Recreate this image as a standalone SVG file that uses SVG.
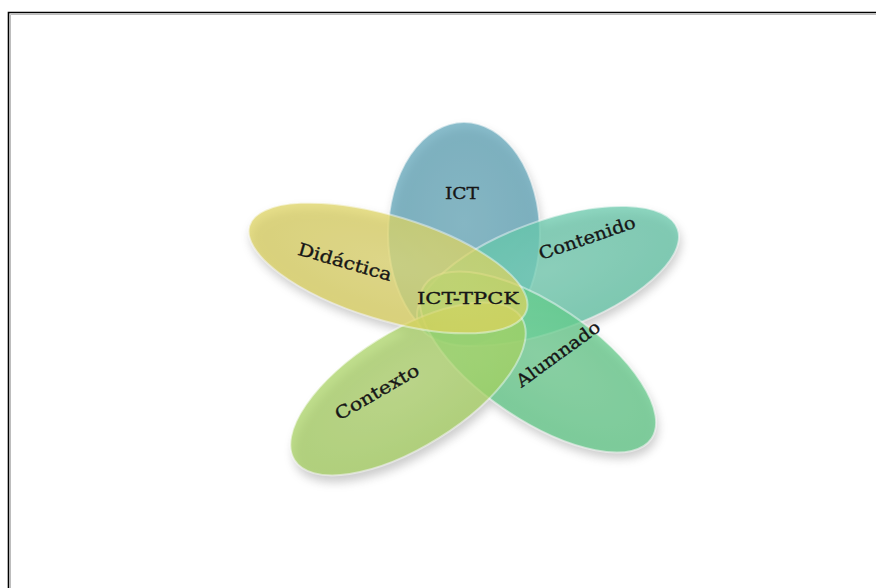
<svg xmlns="http://www.w3.org/2000/svg" width="876" height="588" viewBox="0 0 876 588">
<style>
  .petal { stroke: #ffffff; stroke-opacity: 0.6; stroke-width: 2; }
  .lbl { font-family: "DejaVu Serif", "Liberation Serif", serif; font-size: 17.5px; fill: #161616; stroke: #161616; stroke-width: 0.35; text-anchor: middle; }
  .shadow { fill: #707070; }
</style>
<defs>
  <filter id="blur" x="-30%" y="-30%" width="160%" height="160%">
    <feGaussianBlur stdDeviation="5"/>
  </filter>
  <radialGradient id="gBlue" cx="0.5" cy="0.45" r="0.6">
    <stop offset="0" stop-color="#6aaec0"/>
    <stop offset="1" stop-color="#5aa2b7"/>
  </radialGradient>
  <radialGradient id="gTeal" cx="0.5" cy="0.45" r="0.6">
    <stop offset="0" stop-color="#72cfb3"/>
    <stop offset="1" stop-color="#5fc6a6"/>
  </radialGradient>
  <radialGradient id="gGreen" cx="0.5" cy="0.45" r="0.6">
    <stop offset="0" stop-color="#6fd193"/>
    <stop offset="1" stop-color="#5cc985"/>
  </radialGradient>
  <radialGradient id="gLime" cx="0.5" cy="0.45" r="0.6">
    <stop offset="0" stop-color="#b3d86f"/>
    <stop offset="1" stop-color="#a4d05c"/>
  </radialGradient>
  <radialGradient id="gYellow" cx="0.5" cy="0.45" r="0.6">
    <stop offset="0" stop-color="#e4da6e"/>
    <stop offset="1" stop-color="#ddd25a"/>
  </radialGradient>
</defs>

<rect x="0" y="0" width="876" height="588" fill="#ffffff"/>
<path d="M8.5 588 V12.5 H876" fill="none" stroke="#000000" stroke-width="1.6"/>
<path d="M10.5 588 V14.5 H876" fill="none" stroke="#bdbdbd" stroke-width="1"/>

<g id="shadows" opacity="0.35" filter="url(#blur)">
  <ellipse class="shadow" cx="466" cy="240" rx="76" ry="112"/>
  <ellipse class="shadow" cx="550" cy="282" rx="138" ry="55" transform="rotate(-20 550 282)"/>
  <ellipse class="shadow" cx="540" cy="368" rx="137" ry="58" transform="rotate(34 540 368)"/>
  <ellipse class="shadow" cx="410" cy="397" rx="133" ry="57" transform="rotate(-32 410 397)"/>
  <ellipse class="shadow" cx="390" cy="274" rx="145" ry="52" transform="rotate(17 390 274)"/>
</g>

<g id="node-ict" opacity="0.72">
  <ellipse class="petal" cx="464" cy="234" rx="76" ry="112" fill="url(#gBlue)"/>
</g>
<g id="node-contenido" opacity="0.72">
  <ellipse class="petal" cx="548" cy="276" rx="138" ry="55" transform="rotate(-20 548 276)" fill="url(#gTeal)"/>
</g>
<g id="node-alumnado" opacity="0.72">
  <ellipse class="petal" cx="538" cy="362" rx="137" ry="58" transform="rotate(34 538 362)" fill="url(#gGreen)"/>
</g>
<g id="node-contexto" opacity="0.72">
  <ellipse class="petal" cx="408" cy="389" rx="134" ry="58" transform="rotate(-32 408 389)" fill="url(#gLime)"/>
</g>
<g id="node-didactica" opacity="0.72">
  <ellipse class="petal" cx="388" cy="268" rx="145" ry="52" transform="rotate(17 388 268)" fill="url(#gYellow)"/>
</g>

<g id="labels">
  <text class="lbl" x="462" y="199" textLength="34" lengthAdjust="spacingAndGlyphs">ICT</text>
  <text class="lbl" transform="translate(345 262) rotate(16)" y="6" textLength="97" lengthAdjust="spacingAndGlyphs">Didáctica</text>
  <text class="lbl" transform="translate(587 238) rotate(-19)" y="6" textLength="101" lengthAdjust="spacingAndGlyphs">Contenido</text>
  <text class="lbl" x="468" y="304" textLength="102" lengthAdjust="spacingAndGlyphs">ICT-TPCK</text>
  <text class="lbl" transform="translate(558 354) rotate(-36)" y="6" textLength="99" lengthAdjust="spacingAndGlyphs">Alumnado</text>
  <text class="lbl" transform="translate(377 392) rotate(-30)" y="6" textLength="94" lengthAdjust="spacingAndGlyphs">Contexto</text>
</g>
<g id="connectors"/>
</svg>
